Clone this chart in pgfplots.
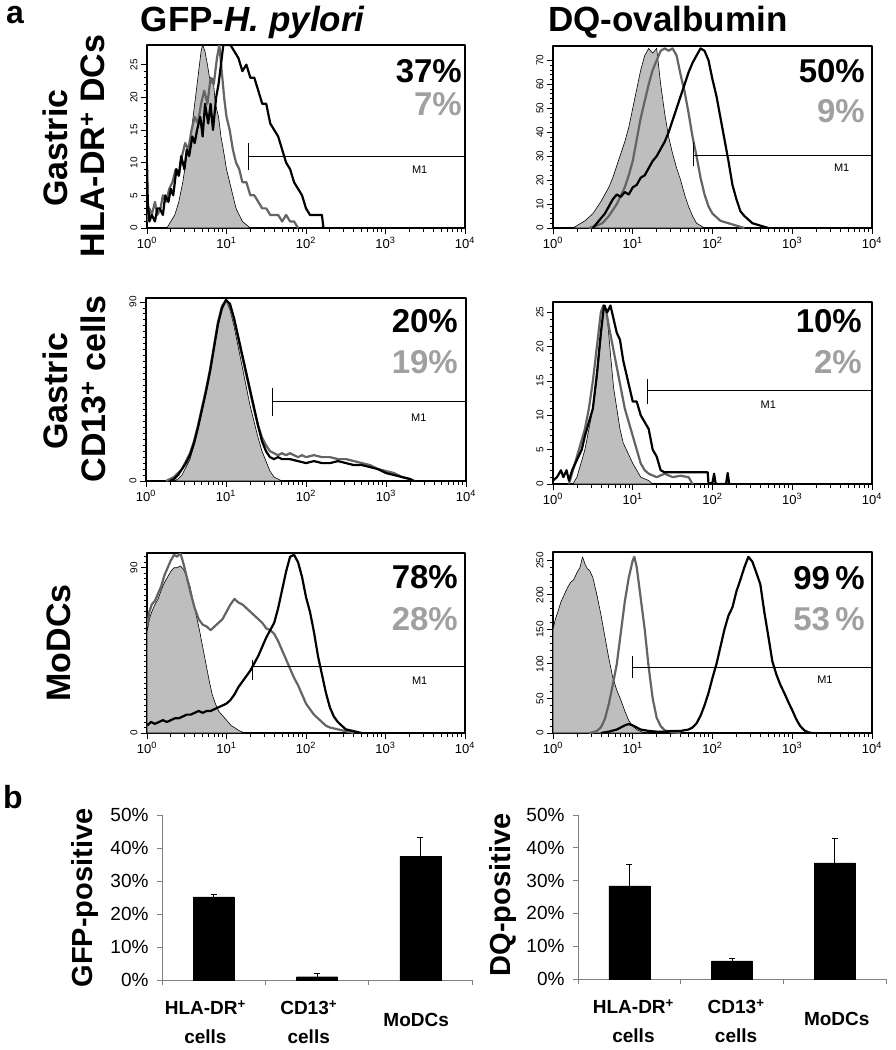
\documentclass[border=0pt]{standalone}
\usepackage{pgfplots}
\pgfplotsset{compat=1.18}
\usepackage{fontspec}
\setmainfont{Liberation Sans}
\definecolor{fillgray}{HTML}{BEBEBE}
\definecolor{linegray}{HTML}{646464}
\definecolor{txtgray}{HTML}{A0A0A0}
\definecolor{axisgray}{HTML}{808080}
\newcommand{\fs}[1]{\fontsize{#1}{#1}\selectfont}
\pgfplotsset{
  /pgf/number format/assume math mode=true,
  hist/.style={scale only axis, anchor=south west, xmin=0, xmax=4, ymin=0,
    axis line style={line width=1.3pt}, tick pos=left, tick align=outside,
    xtick={0,1,2,3,4},
    xticklabels={10\textsuperscript{0},10\textsuperscript{1},10\textsuperscript{2},10\textsuperscript{3},10\textsuperscript{4}},
    minor xtick={0.301,0.477,0.602,0.699,0.778,0.845,0.903,0.954,1.301,1.477,1.602,1.699,1.778,1.845,1.903,1.954,2.301,2.477,2.602,2.699,2.778,2.845,2.903,2.954,3.301,3.477,3.602,3.699,3.778,3.845,3.903,3.954},
    major tick length=6pt, minor tick length=3.5pt,
    every tick/.style={black, line width=0.9pt},
    x tick label style={font=\fs{13}},
    y tick label style={rotate=90, anchor=south, font=\fs{10}},
    line join=round},
  ctrl/.style={draw=black, line width=0.6pt, fill=fillgray},
  gline/.style={draw=linegray, line width=2.2pt},
  bline/.style={draw=black, line width=2.2pt},
  mone/.style={draw=black, line width=0.9pt},
  bars/.style={scale only axis, anchor=south west, xmin=0, xmax=3, ymin=0, ymax=50,
    axis x line*=bottom, axis y line*=left, axis line style={-, draw=axisgray, line width=0.9pt},
    xtick={0,1,2,3}, xticklabels={}, ytick={0,10,...,50},
    yticklabel={\pgfmathprintnumber{\tick}\%},
    tick align=outside, major tick length=5pt,
    every tick/.style={axisgray, line width=0.9pt},
    y tick label style={font=\fs{19}, xshift=-5pt}, clip=false},
  barplot/.style={ybar, bar width=41pt, fill=black, draw=black,
    error bars/.cd, y dir=plus, y explicit,
    error bar style={black, line width=0.8pt},
    error mark options={black, rotate=90, mark size=3pt, line width=0.8pt}},
}
\begin{document}
\begin{tikzpicture}
\path[use as bounding box] (0pt,0pt) rectangle (896pt,-1050pt);

% ---------- Panel 1: GFP, HLA-DR ----------
\begin{axis}[hist, at={(147pt,-228pt)}, width=318pt, height=183pt, ymax=28,
  ytick={0,5,...,25}, minor y tick num=4]
\addplot[ctrl] coordinates {(0.25,0) (0.3,1) (0.35,2) (0.4,4) (0.45,7) (0.5,11) (0.55,14) (0.6,19) (0.65,24) (0.68,27) (0.7,28) (0.73,27) (0.76,25) (0.8,22) (0.83,23) (0.86,19) (0.9,17) (0.93,14) (0.96,12) (1.0,9) (1.04,7) (1.08,5) (1.12,3) (1.16,2) (1.2,1) (1.25,0.5) (1.3,0)} \closedcycle;
\addplot[gline] coordinates {(0,1) (0.03,3) (0.06,2) (0.1,4) (0.13,2) (0.17,3) (0.2,5) (0.24,4) (0.28,6) (0.32,7) (0.36,9) (0.4,8) (0.44,11) (0.48,13) (0.52,12) (0.56,15) (0.6,17) (0.64,16) (0.68,19) (0.72,21) (0.76,19) (0.8,23) (0.84,22) (0.88,26) (0.91,28) (0.94,24) (0.97,20) (1.0,17) (1.04,15) (1.08,12) (1.12,10) (1.16,9) (1.2,7) (1.25,7) (1.3,5) (1.35,5) (1.4,4) (1.45,3) (1.5,3) (1.55,2) (1.6,2) (1.65,2) (1.7,1) (1.75,2) (1.8,1) (1.85,1) (1.9,0)};
\addplot[bline] coordinates {(0,10) (0.01,4) (0.03,1) (0.06,2) (0.1,1) (0.13,3) (0.16,3) (0.2,2) (0.23,5) (0.27,4) (0.3,6) (0.33,5) (0.37,9) (0.4,8) (0.43,11) (0.47,9) (0.5,12) (0.53,11) (0.57,14) (0.6,13) (0.63,15) (0.67,17) (0.7,14) (0.73,19) (0.77,16) (0.8,19) (0.83,15) (0.87,20) (0.9,22) (0.93,25) (0.96,28) (1.0,28) (1.05,28) (1.1,27) (1.15,26) (1.2,24) (1.25,25) (1.3,23) (1.35,23) (1.4,21) (1.45,19) (1.5,19) (1.55,16) (1.6,15) (1.65,14) (1.7,12) (1.75,10) (1.8,9) (1.85,7) (1.9,6) (1.95,5) (2.0,3) (2.05,2) (2.1,2) (2.15,2) (2.2,2) (2.22,0)};
\addplot[mone] coordinates {(1.28,11) (4,11)};
\addplot[mone] coordinates {(1.28,8.9) (1.28,13)};
\node[font=\fs{11}] at (axis cs:3.43,8.9) {M1};
\end{axis}

% ---------- Panel 2: DQ, HLA-DR ----------
\begin{axis}[hist, at={(553pt,-228pt)}, width=319pt, height=182pt, ymax=76,
  ytick={0,10,...,70}, minor y tick num=4]
\addplot[ctrl] coordinates {(0.25,0) (0.3,1) (0.4,3) (0.5,6) (0.6,11) (0.7,17) (0.75,21) (0.8,26) (0.85,31) (0.9,36) (0.95,42) (1.0,50) (1.05,58) (1.1,66) (1.15,72) (1.2,75) (1.25,73) (1.3,75) (1.35,60) (1.4,48) (1.45,38) (1.5,31) (1.55,25) (1.6,20) (1.65,14) (1.7,9) (1.75,5) (1.8,2) (1.85,1) (1.9,0)} \closedcycle;
\addplot[gline] coordinates {(0.45,0) (0.55,1) (0.62,2) (0.7,5) (0.8,10) (0.9,17) (0.95,22) (1.0,28) (1.05,37) (1.1,46) (1.15,53) (1.2,60) (1.25,66) (1.3,70) (1.35,74) (1.4,75) (1.45,74) (1.5,75) (1.55,72) (1.6,64) (1.65,57) (1.7,48) (1.75,38) (1.8,30) (1.85,21) (1.9,14) (1.95,9) (2.0,6) (2.1,3) (2.2,2) (2.3,1) (2.4,0)};
\addplot[bline] coordinates {(0.5,0) (0.55,2) (0.6,4) (0.65,6) (0.7,9) (0.75,12) (0.8,14) (0.85,13) (0.9,15) (0.95,14) (1.0,17) (1.05,18) (1.1,21) (1.15,22) (1.2,25) (1.25,28) (1.3,30) (1.35,33) (1.4,36) (1.45,40) (1.5,45) (1.55,50) (1.6,55) (1.65,60) (1.7,65) (1.75,69) (1.8,72) (1.85,75) (1.9,74) (1.95,70) (2.0,62) (2.05,55) (2.1,46) (2.15,37) (2.2,28) (2.25,18) (2.3,12) (2.35,7) (2.4,5) (2.5,2) (2.6,1) (2.7,0)};
\addplot[mone] coordinates {(1.755,30.5) (4,30.5)};
\addplot[mone] coordinates {(1.755,26) (1.755,36)};
\node[font=\fs{11}] at (axis cs:3.62,25) {M1};
\end{axis}

% ---------- Panel 3: GFP, CD13 ----------
\begin{axis}[hist, at={(146pt,-481pt)}, width=320pt, height=183pt, ymax=92,
  ytick={0,90}, minor ytick={3,6,...,87}]
\addplot[ctrl] coordinates {(0.35,0) (0.4,1) (0.45,3) (0.5,7) (0.55,11) (0.6,18) (0.65,26) (0.7,35) (0.75,44) (0.8,54) (0.85,66) (0.9,78) (0.95,86) (1.0,91) (1.05,86) (1.1,78) (1.15,68) (1.2,58) (1.25,48) (1.3,38) (1.35,30) (1.4,22) (1.45,15) (1.5,10) (1.55,5) (1.6,2) (1.65,1) (1.7,0)} \closedcycle;
\addplot[gline] coordinates {(0.25,0) (0.3,1) (0.35,2) (0.4,4) (0.45,6) (0.5,10) (0.55,14) (0.6,20) (0.65,28) (0.7,37) (0.75,46) (0.8,56) (0.85,68) (0.9,80) (0.95,88) (1.0,91) (1.05,88) (1.1,81) (1.15,72) (1.2,63) (1.25,54) (1.3,45) (1.35,36) (1.4,28) (1.45,22) (1.5,18) (1.55,15) (1.6,14) (1.65,13) (1.7,14) (1.75,13) (1.8,14) (1.85,13) (1.9,12) (1.95,13) (2.0,12) (2.1,13) (2.2,12) (2.3,12) (2.4,11) (2.5,11) (2.6,10) (2.7,9) (2.8,8) (2.9,6) (3.0,5) (3.1,4) (3.2,2) (3.3,1) (3.35,0)};
\addplot[bline] coordinates {(0.3,0) (0.35,1) (0.4,3) (0.45,6) (0.5,9) (0.55,13) (0.6,19) (0.65,27) (0.7,36) (0.75,45) (0.8,55) (0.85,67) (0.9,79) (0.95,87) (1.0,91) (1.05,89) (1.1,82) (1.15,73) (1.2,64) (1.25,55) (1.3,46) (1.35,37) (1.4,28) (1.45,20) (1.5,15) (1.55,12) (1.6,11) (1.65,12) (1.7,11) (1.8,11) (1.9,10) (2.0,9) (2.1,10) (2.2,9) (2.3,9) (2.4,10) (2.5,9) (2.6,8) (2.7,8) (2.8,7) (2.9,6) (3.0,4) (3.1,3) (3.2,2) (3.3,1) (3.35,0)};
\addplot[mone] coordinates {(1.58,39.8) (4,39.8)};
\addplot[mone] coordinates {(1.58,32.8) (1.58,46.7)};
\node[font=\fs{11}] at (axis cs:3.41,32) {M1};
\end{axis}

% ---------- Panel 4: DQ, CD13 ----------
\begin{axis}[hist, at={(553pt,-484pt)}, width=319pt, height=182pt, ymax=26.5,
  ytick={0,5,...,25}, minor y tick num=4]
\addplot[ctrl] coordinates {(0.25,0) (0.3,1) (0.35,3) (0.4,5) (0.45,8) (0.5,11) (0.55,15) (0.6,21) (0.63,25) (0.66,26) (0.69,23) (0.72,19) (0.76,14) (0.8,11) (0.84,8) (0.88,6) (0.92,5) (0.96,4) (1.0,3) (1.05,2) (1.1,1) (1.2,0.5) (1.25,0)} \closedcycle;
\addplot[gline] coordinates {(0.2,0) (0.25,2) (0.3,4) (0.35,6) (0.4,8) (0.45,11) (0.5,15) (0.55,20) (0.6,25) (0.63,26) (0.67,25) (0.7,23) (0.75,20) (0.8,17) (0.85,14) (0.9,11) (0.95,9) (1.0,7) (1.05,5) (1.1,3) (1.15,2) (1.2,1.5) (1.3,1) (1.4,1.5) (1.5,1) (1.6,1.2) (1.7,1) (1.75,0)};
\addplot[bline] coordinates {(0,0.5) (0.05,1) (0.1,2) (0.13,1) (0.17,2) (0.2,0.5) (0.24,2) (0.28,3) (0.32,4) (0.36,5) (0.4,7) (0.45,9) (0.5,11) (0.55,16) (0.6,22) (0.64,26) (0.68,25) (0.72,26) (0.76,24) (0.8,22) (0.84,21) (0.88,18) (0.92,16) (0.96,14) (1.0,12) (1.05,12) (1.1,10) (1.15,9) (1.2,8) (1.25,5) (1.3,4) (1.35,2) (1.4,1.7) (1.5,1.7) (1.6,1.7) (1.7,1.7) (1.8,1.7) (1.9,1.7) (1.94,1.7) (1.95,0) (2.0,0.2) (2.02,1.5) (2.04,0) (2.17,0) (2.19,1.6) (2.21,0)};
\addplot[mone] coordinates {(1.19,13.6) (4,13.6)};
\addplot[mone] coordinates {(1.19,11.7) (1.19,15.3)};
\node[font=\fs{11}] at (axis cs:2.7,11.5) {M1};
\end{axis}

% ---------- Panel 5: GFP, MoDCs ----------
\begin{axis}[hist, at={(147pt,-733pt)}, width=318pt, height=180pt, ymax=98,
  ytick={0,90}, minor ytick={3,6,...,96}]
\addplot[ctrl] coordinates {(0,55) (0.03,62) (0.06,66) (0.1,70) (0.14,73) (0.18,78) (0.22,82) (0.26,85) (0.3,88) (0.34,90) (0.38,90) (0.42,91) (0.46,89) (0.5,85) (0.54,80) (0.58,72) (0.62,64) (0.66,56) (0.7,47) (0.74,38) (0.78,29) (0.82,21) (0.86,16) (0.9,12) (0.94,10) (0.98,8) (1.02,6) (1.06,4) (1.1,3) (1.15,1.5) (1.2,0.5) (1.22,0)} \closedcycle;
\addplot[gline] coordinates {(0,58) (0.03,66) (0.06,70) (0.1,72) (0.14,76) (0.18,80) (0.22,86) (0.26,90) (0.3,94) (0.34,97) (0.38,96) (0.42,98) (0.46,92) (0.5,85) (0.55,76) (0.6,68) (0.65,62) (0.7,59) (0.75,58) (0.8,56) (0.85,58) (0.9,60) (0.95,62) (1.0,66) (1.05,70) (1.1,73) (1.15,71) (1.2,70) (1.25,68) (1.3,66) (1.35,64) (1.4,62) (1.45,60) (1.5,57) (1.55,56) (1.6,54) (1.65,50) (1.7,45) (1.75,40) (1.8,35) (1.85,30) (1.9,26) (1.95,21) (2.0,16) (2.05,13) (2.1,10) (2.15,8) (2.2,6) (2.25,4) (2.3,3) (2.4,2) (2.5,1) (2.6,0)};
\addplot[bline] coordinates {(0,4) (0.05,6) (0.1,5) (0.15,6) (0.2,7) (0.25,6) (0.3,7) (0.35,8) (0.4,8) (0.45,9) (0.5,10) (0.55,10) (0.6,11) (0.65,12) (0.7,11) (0.75,12) (0.8,12) (0.85,13) (0.9,14) (0.95,15) (1.0,16) (1.05,18) (1.1,21) (1.15,25) (1.2,28) (1.25,31) (1.3,34) (1.35,38) (1.4,42) (1.45,47) (1.5,52) (1.55,56) (1.6,60) (1.65,68) (1.7,78) (1.75,88) (1.8,96) (1.85,97) (1.9,93) (1.95,85) (2.0,74) (2.05,66) (2.1,55) (2.15,42) (2.2,32) (2.25,22) (2.3,14) (2.35,9) (2.4,6) (2.45,4) (2.5,2) (2.6,1) (2.7,0)};
\addplot[mone] coordinates {(1.33,36) (4,36)};
\addplot[mone] coordinates {(1.33,29) (1.33,40)};
\node[font=\fs{11}] at (axis cs:3.43,28.5) {M1};
\end{axis}

% ---------- Panel 6: DQ, MoDCs ----------
\begin{axis}[hist, at={(553pt,-733pt)}, width=319pt, height=181pt, ymax=262,
  ytick={0,50,...,250}, minor y tick num=4]
\addplot[ctrl] coordinates {(0,150) (0.03,165) (0.06,175) (0.1,190) (0.14,200) (0.18,210) (0.22,218) (0.26,222) (0.3,232) (0.34,240) (0.37,255) (0.4,245) (0.43,238) (0.46,235) (0.5,225) (0.55,200) (0.6,172) (0.65,140) (0.7,108) (0.75,80) (0.8,62) (0.85,48) (0.9,32) (0.95,18) (1.0,10) (1.05,5) (1.1,2) (1.15,1) (1.2,0)} \closedcycle;
\addplot[gline] coordinates {(0.45,0) (0.5,1) (0.55,3) (0.6,8) (0.65,20) (0.7,42) (0.75,70) (0.8,100) (0.85,145) (0.9,190) (0.95,225) (1.0,250) (1.02,255) (1.05,240) (1.1,195) (1.15,150) (1.2,95) (1.25,50) (1.3,22) (1.35,10) (1.4,4) (1.5,1) (1.6,0)};
\addplot[bline] coordinates {(0.6,0) (0.7,2) (0.8,5) (0.85,8) (0.9,11) (0.95,13) (1.0,11) (1.05,8) (1.1,5) (1.2,3) (1.3,2) (1.4,2) (1.5,3) (1.6,3) (1.7,5) (1.75,8) (1.8,14) (1.85,25) (1.9,40) (1.95,58) (2.0,80) (2.05,100) (2.1,125) (2.15,150) (2.2,170) (2.25,182) (2.3,205) (2.35,222) (2.4,240) (2.45,255) (2.5,248) (2.55,232) (2.6,215) (2.65,175) (2.7,140) (2.75,104) (2.8,85) (2.85,70) (2.9,58) (2.95,45) (3.0,33) (3.05,20) (3.1,10) (3.15,4) (3.2,1) (3.25,0)};
\addplot[mone] coordinates {(0.99,95) (4,95)};
\addplot[mone] coordinates {(0.99,79) (0.99,112)};
\node[font=\fs{11}] at (axis cs:3.41,77) {M1};
\end{axis}

% ---------- Bar chart GFP ----------
\begin{axis}[bars, at={(162pt,-980pt)}, width=310pt, height=165pt]
\addplot[barplot] coordinates {(0.5,25.2) +- (0,0.7) (1.5,1.0) +- (0,1.1) (2.5,37.4) +- (0,5.8)};
\node[align=center, font=\bfseries\fontsize{19}{29}\selectfont] at (axis cs:0.42,0) [yshift=-42pt] {HLA-DR\textsuperscript{+}\\cells};
\node[align=center, font=\bfseries\fontsize{19}{29}\selectfont] at (axis cs:1.42,0) [yshift=-42pt] {CD13\textsuperscript{+}\\cells};
\node[align=center, font=\bfseries\fontsize{19}{29}\selectfont] at (axis cs:2.46,0) [yshift=-40pt] {MoDCs};
\end{axis}

% ---------- Bar chart DQ ----------
\begin{axis}[bars, at={(578pt,-979pt)}, width=308pt, height=164pt]
\addplot[barplot] coordinates {(0.5,28.4) +- (0,6.4) (1.5,5.5) +- (0,0.9) (2.5,35.4) +- (0,7.6)};
\node[align=center, font=\bfseries\fontsize{19}{29}\selectfont] at (axis cs:0.54,0) [yshift=-42pt] {HLA-DR\textsuperscript{+}\\cells};
\node[align=center, font=\bfseries\fontsize{19}{29}\selectfont] at (axis cs:1.54,0) [yshift=-42pt] {CD13\textsuperscript{+}\\cells};
\node[align=center, font=\bfseries\fontsize{19}{29}\selectfont] at (axis cs:2.52,0) [yshift=-40pt] {MoDCs};
\end{axis}

% ---------- Percent labels ----------
\begin{scope}[every node/.style={inner sep=0pt, anchor=base east, font=\bfseries\fs{33}}]
\node at (462pt,-82pt) {37\%};
\node[text=txtgray] at (462pt,-115pt) {7\%};
\node at (865pt,-82pt) {50\%};
\node[text=txtgray] at (865pt,-122pt) {9\%};
\node at (458pt,-332pt) {20\%};
\node[text=txtgray] at (458pt,-373pt) {19\%};
\node at (862pt,-332pt) {10\%};
\node[text=txtgray] at (862pt,-373pt) {2\%};
\node at (458pt,-588pt) {78\%};
\node[text=txtgray] at (458pt,-630pt) {28\%};
\node at (865pt,-589pt) {99\,\%};
\node[text=txtgray] at (865pt,-630pt) {53\,\%};
\end{scope}

% ---------- Headings and row labels ----------
\node[inner sep=0pt, anchor=base, font=\bfseries\fs{35}] at (253pt,-31pt) {GFP-\textit{H. pylori}};
\node[inner sep=0pt, anchor=base, font=\bfseries\fs{35}] at (668pt,-31pt) {DQ-ovalbumin};
\node[inner sep=0pt, font=\bfseries\fs{32}] at (15pt,-15pt) {a};
\node[inner sep=0pt, font=\bfseries\fs{32}] at (13pt,-797pt) {b};
\begin{scope}[every node/.style={inner sep=0pt, anchor=base, rotate=90, font=\bfseries\fs{34}}]
\node at (67pt,-148pt) {Gastric};
\node at (104pt,-146pt) {HLA-DR\textsuperscript{+} DCs};
\node at (67pt,-391pt) {Gastric};
\node at (105pt,-389pt) {CD13\textsuperscript{+} cells};
\node at (70pt,-643pt) {MoDCs};
\end{scope}
\node[inner sep=0pt, rotate=90, font=\bfseries\fs{29}] at (85pt,-898pt) {GFP-positive};
\node[inner sep=0pt, rotate=90, font=\bfseries\fs{29}] at (503pt,-895pt) {DQ-positive};
\end{tikzpicture}
\end{document}
